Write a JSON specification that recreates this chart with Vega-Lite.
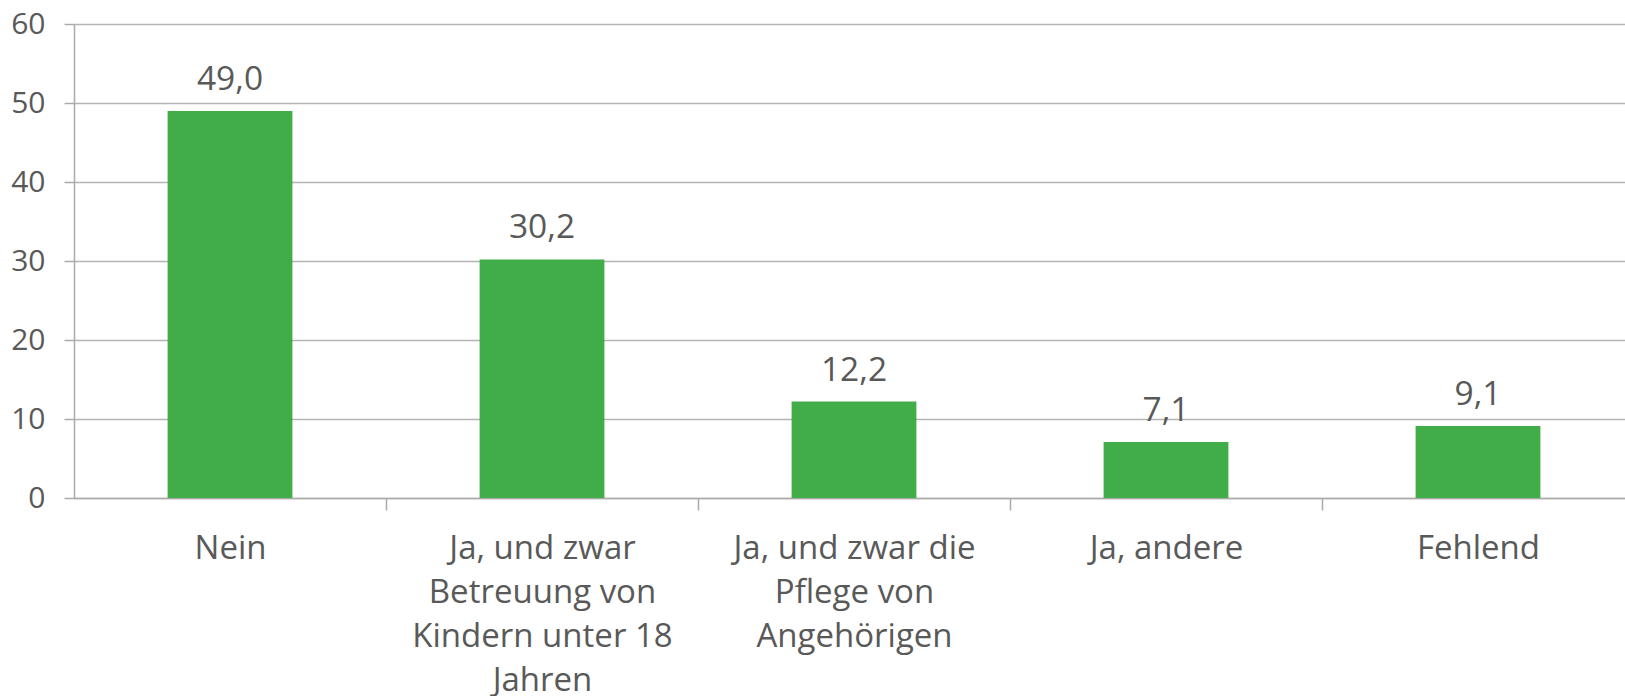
{
  "$schema": "https://vega.github.io/schema/vega-lite/v6.json",
  "width": 1560,
  "height": 474,
  "autosize": {"type": "none"},
  "padding": {"left": 74, "top": 24, "right": 0, "bottom": 198},
  "background": "white",
  "config": {
    "view": {"stroke": null},
    "locale": {"number": {"decimal": ",", "thousands": ".", "grouping": [3], "currency": ["", " €"]}},
    "font": "Open Sans"
  },
  "data": {
    "values": [
      {"kategorie": "Nein", "wert": 49.0},
      {"kategorie": "Ja, und zwar|Betreuung von|Kindern unter 18|Jahren", "wert": 30.2},
      {"kategorie": "Ja, und zwar die|Pflege von|Angehörigen", "wert": 12.2},
      {"kategorie": "Ja, andere", "wert": 7.1},
      {"kategorie": "Fehlend", "wert": 9.1}
    ]
  },
  "encoding": {
    "x": {
      "field": "kategorie",
      "type": "nominal",
      "sort": null,
      "scale": {"paddingInner": 0.6, "paddingOuter": 0.3},
      "axis": {
        "title": null,
        "labelAngle": 0,
        "labelExpr": "split(datum.value, '|')",
        "labelLimit": 0,
        "labelFont": "Open Sans",
        "labelFontSize": 33,
        "labelColor": "#595959",
        "labelLineHeight": 44,
        "labelPadding": 22,
        "tickOffset": 156,
        "labelOffset": -156,
        "tickSize": 12,
        "tickColor": "#aaaaaa",
        "tickWidth": 1.5,
        "domainColor": "#aaaaaa",
        "domainWidth": 1.5,
        "grid": false
      }
    },
    "y": {
      "field": "wert",
      "type": "quantitative",
      "scale": {"domain": [0, 60], "nice": false},
      "axis": {
        "title": null,
        "values": [0, 10, 20, 30, 40, 50, 60],
        "labelFont": "Open Sans",
        "labelFontSize": 30,
        "labelColor": "#595959",
        "labelPadding": 19,
        "tickSize": 10,
        "tickColor": "#aaaaaa",
        "tickWidth": 1.5,
        "domainColor": "#aaaaaa",
        "domainWidth": 1.5,
        "gridColor": "#b4b4b4",
        "gridWidth": 1.5
      }
    }
  },
  "layer": [
    {"mark": {"type": "bar", "color": "#41ad49"}},
    {
      "mark": {"type": "text", "baseline": "alphabetic", "dy": -21, "fontSize": 33.5, "color": "#595959", "font": "Open Sans"},
      "encoding": {"text": {"field": "wert", "type": "quantitative", "format": ".1f"}}
    }
  ]
}
